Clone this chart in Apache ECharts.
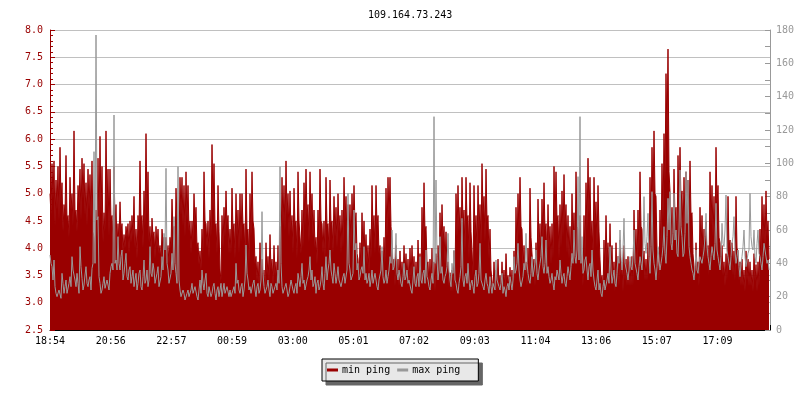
<!DOCTYPE html>
<html>
<head>
<meta charset="utf-8">
<script src="https://cdn.jsdelivr.net/npm/echarts@6/dist/echarts.min.js"></script>
<style>html,body{margin:0;padding:0;background:#fff;}#c{width:800px;height:400px;}</style>
</head>
<body>
<div id="c"></div>
<script>
// x axis in minutes from 18:54; samples every 2 minutes (even / odd samples kept in separate lists)
var stepMin = 2;
var xTickStep = 121.36;
var xTickLabels = ['18:54','20:56','22:57','00:59','03:00','05:01','07:02','09:03','11:04','13:06','15:07','17:09'];

// min ping (ms, left axis) — even samples (local peaks)
var minPingEven = [
5.0,5.55,5.6,5.25,5.5,5.85,5.2,4.8,5.7,4.6,
5.3,5.0,6.15,4.7,5.15,5.45,5.65,5.55,5.2,5.45,
5.35,5.6,4.2,4.7,5.65,6.05,5.5,4.65,6.15,5.45,
5.45,4.6,5.5,4.8,4.45,4.85,4.45,4.25,4.4,4.45,
4.5,4.6,4.95,4.35,4.6,5.6,4.6,5.05,6.1,5.4,
4.4,4.55,4.3,4.4,4.35,4.05,4.35,4.2,4.2,4.05,
4.2,4.9,4.4,5.1,4.4,5.3,5.3,5.15,5.4,5.15,
4.5,4.5,5.0,4.75,4.1,3.95,4.35,5.4,4.45,4.5,
4.7,5.9,5.55,4.45,5.15,3.6,4.6,4.75,5.05,4.6,
4.35,5.1,4.45,5.0,4.7,5.0,5.0,4.45,5.45,4.35,
5.0,5.4,4.35,3.85,3.75,4.1,3.8,3.6,4.1,3.85,
4.25,3.8,4.05,3.75,4.05,4.4,5.3,5.15,5.6,5.0,
5.05,4.6,5.1,4.5,5.4,4.5,4.7,5.2,5.45,4.8,
5.4,5.0,4.7,4.2,4.7,5.45,4.45,4.5,5.3,4.45,
5.25,4.5,4.95,4.75,5.0,4.6,4.7,5.3,4.95,4.8,
4.8,5.0,5.15,4.65,3.8,4.1,4.65,4.5,4.25,4.05,
4.35,5.15,4.6,5.15,4.6,4.05,3.95,4.2,5.1,5.3,
5.3,4.1,3.8,4.05,3.8,3.95,3.75,4.05,3.9,3.8,
4.0,4.05,3.85,3.75,4.15,3.9,4.75,5.2,4.4,3.75,
3.8,4.0,3.75,3.9,4.05,4.65,4.8,4.4,4.3,3.75,
3.55,3.6,3.95,5.0,5.15,4.75,5.3,4.7,5.3,4.6,
5.2,3.95,5.15,4.6,5.15,4.8,5.55,4.95,5.45,4.6,
4.35,3.6,3.75,3.6,3.8,3.5,3.75,3.6,3.9,3.5,
3.65,3.6,3.95,4.75,5.0,5.3,4.35,4.05,3.75,4.0,
5.1,4.2,3.8,4.1,4.9,4.45,4.9,5.2,4.45,4.8,
4.4,4.45,5.5,5.4,4.6,4.8,5.05,5.35,4.8,4.6,
4.4,5.0,4.65,5.4,4.35,4.6,3.75,4.6,5.2,5.65,
5.3,4.5,5.3,4.85,5.15,3.8,3.5,4.15,4.6,4.1,
4.45,4.05,3.75,4.1,3.85,4.15,3.75,4.05,3.8,3.85,
3.75,3.85,4.7,4.35,4.7,5.4,4.35,3.95,3.8,4.1,
5.3,5.85,6.15,4.95,3.75,4.7,5.55,6.1,7.2,7.65,
5.05,4.75,5.45,4.75,5.7,5.85,5.05,5.3,5.4,5.25,
5.6,4.65,3.9,4.1,3.75,4.75,4.6,4.35,4.5,4.05,
5.4,5.15,4.95,5.85,5.15,4.1,4.05,3.75,3.9,4.95,
4.15,4.1,3.95,4.95,3.95,3.75,3.8,3.6,3.95,3.8,
3.75,3.6,3.9,3.7,3.75,4.35,4.95,4.8,5.05,4.5
];
// min ping — odd samples (dips between peaks)
var minPingOdd = [
4.6,4.9,4.4,4.7,4.5,4.8,4.3,4.6,4.5,4.2,
4.7,4.4,4.6,4.3,4.8,4.5,4.9,4.6,4.4,4.7,
4.5,4.3,3.9,4.2,4.4,4.6,4.1,4.3,4.7,4.2,
4.5,4.1,4.4,4.0,4.1,4.3,3.9,4.0,4.2,3.9,
4.1,4.2,4.0,3.8,4.3,4.5,4.0,4.4,4.6,4.1,
3.9,4.2,3.8,4.0,3.9,3.7,4.1,3.8,3.9,3.7,
4.0,4.3,3.9,4.5,4.0,4.6,4.4,4.2,4.5,4.3,
3.9,4.1,4.4,4.0,3.7,3.6,3.9,4.5,4.0,3.8,
4.2,4.7,4.4,3.9,4.3,3.4,4.0,4.2,4.4,3.9,
3.9,4.3,3.8,4.2,3.9,4.1,4.4,3.8,4.3,3.7,
4.2,4.5,3.7,3.4,3.3,3.5,3.3,3.2,3.5,3.4,
3.6,3.3,3.5,3.3,3.4,3.8,4.4,4.3,4.6,4.2,
4.3,3.9,4.4,3.8,4.5,3.9,4.0,4.4,4.6,4.1,
4.5,4.2,4.0,3.7,4.1,4.5,3.9,3.8,4.4,3.9,
4.4,3.9,4.2,4.0,4.3,3.9,4.0,4.5,4.1,4.2,
4.0,4.3,4.4,3.9,3.4,3.6,3.9,3.8,3.7,3.5,
3.8,4.3,3.9,4.4,3.9,3.5,3.4,3.7,4.2,4.5,
4.4,3.6,3.3,3.5,3.3,3.4,3.3,3.5,3.4,3.3,
3.4,3.5,3.3,3.3,3.6,3.4,3.9,4.3,3.7,3.3,
3.3,3.5,3.2,3.4,3.5,3.9,4.1,3.7,3.6,3.3,
3.2,3.2,3.4,4.2,4.3,3.9,4.4,3.9,4.5,3.8,
4.3,3.5,4.2,3.9,4.3,4.0,4.6,4.1,4.5,3.8,
3.6,3.2,3.3,3.2,3.3,3.2,3.3,3.2,3.4,3.2,
3.3,3.2,3.4,3.9,4.2,4.4,3.6,3.5,3.3,3.5,
4.2,3.6,3.3,3.5,4.0,3.7,4.1,4.3,3.7,4.0,
3.7,3.8,4.4,4.5,3.8,4.0,4.2,4.4,3.9,3.8,
3.6,4.1,3.8,4.4,3.7,3.9,3.3,3.8,4.3,4.6,
4.2,3.8,4.4,4.0,4.3,3.4,3.2,3.5,3.8,3.4,
3.6,3.4,3.2,3.4,3.3,3.5,3.2,3.4,3.3,3.3,
3.3,3.3,3.8,3.6,3.9,4.4,3.7,3.4,3.4,3.6,
4.3,4.8,5.0,4.0,3.4,3.9,4.5,5.2,6.0,5.4,
4.2,4.0,4.5,4.0,4.7,4.8,4.2,4.4,4.5,4.3,
4.6,3.9,3.4,3.6,3.3,3.9,3.8,3.7,3.8,3.5,
4.4,4.2,4.1,4.8,4.2,3.6,3.5,3.3,3.4,4.0,
3.6,3.5,3.4,4.0,3.4,3.3,3.3,3.2,3.4,3.3,
3.3,3.2,3.4,3.2,3.3,3.7,4.1,4.0,4.2,3.8
];

// max ping (ms, right axis) — even samples
var maxPingEven = [
45,38,42,22,21,24,34,22,30,23,
32,44,36,26,28,50,31,27,38,26,
32,37,107,177,68,28,24,32,26,30,
34,40,129,42,56,36,48,34,46,30,
38,32,26,34,28,36,24,42,30,26,
50,32,36,28,38,26,44,58,97,36,
28,46,68,34,98,24,20,22,18,24,
20,28,22,26,18,30,36,24,34,20,
26,22,28,18,26,24,20,28,22,26,
24,20,26,40,30,22,28,24,51,30,
26,22,30,20,28,24,71,26,22,30,
20,26,22,28,36,98,26,22,28,20,
26,30,22,28,34,26,40,30,24,32,
44,36,28,22,30,26,38,24,44,36,
48,32,40,28,38,30,26,34,28,82,
36,30,72,52,40,32,38,50,34,30,
26,36,28,34,24,30,50,28,36,32,
44,60,38,58,30,36,26,40,32,28,
30,22,38,26,34,44,28,36,48,30,
24,34,128,90,30,56,38,28,34,58,
30,40,48,28,22,32,67,26,34,40,
24,30,22,36,28,52,30,24,34,26,
32,22,28,42,30,24,34,26,20,28,
32,24,44,36,52,30,26,40,58,34,
28,44,36,48,30,40,56,34,54,38,
28,34,24,30,36,42,28,34,26,38,
30,46,60,40,92,128,56,36,44,30,
40,48,30,24,36,28,20,30,24,34,
50,28,36,26,44,60,36,67,40,30,
44,36,60,40,30,44,36,80,46,70,
34,83,40,30,50,36,44,62,40,79,
83,48,82,60,44,96,56,46,95,90,
44,36,30,48,34,44,40,48,70,44,
36,50,42,76,44,36,64,50,81,44,
36,52,68,40,48,32,44,60,38,46,
82,50,60,40,60,44,36,52,48,42
];
// max ping — odd samples
var maxPingOdd = [
40,30,26,20,24,19,28,26,22,28,
26,36,30,34,22,38,24,33,28,30,
24,40,40,66,32,22,28,25,30,24,
38,36,40,36,40,44,30,40,32,36,
28,36,30,24,34,26,32,28,36,30,
34,40,28,34,26,32,36,48,40,28,
34,36,40,28,30,20,24,18,22,20,
24,22,26,20,24,22,28,30,22,26,
20,26,22,24,20,28,24,22,26,20,
20,24,22,28,24,26,20,30,34,24,
22,28,24,26,22,30,34,22,26,24,
28,22,26,24,28,40,22,26,24,22,
30,24,26,22,30,32,28,24,30,36,
30,26,32,28,24,30,28,34,30,40,
36,28,34,32,30,26,32,28,36,40,
30,34,48,36,30,36,34,30,28,34,
30,28,34,26,30,36,32,30,28,36,
40,36,44,34,36,28,32,30,36,30,
24,30,28,32,26,30,34,28,32,26,
30,28,40,44,36,34,30,32,38,36,
26,34,30,24,28,38,30,32,28,30,
28,26,32,26,34,30,26,30,28,22,
26,28,24,30,26,28,22,24,26,24,
28,30,34,40,36,26,32,36,40,30,
34,32,40,34,36,44,38,40,34,32,
30,28,32,36,30,34,32,28,32,34,
38,40,44,48,42,40,34,42,36,38,
32,36,26,30,24,22,26,24,30,28,
36,32,28,34,40,44,48,40,34,36,
38,44,40,34,38,40,48,52,56,44,
50,48,36,38,42,40,50,46,56,60,
52,58,54,46,60,62,44,58,64,50,
40,34,38,36,40,42,44,56,50,40,
44,46,52,48,40,44,52,60,48,40,
44,56,48,44,38,40,50,44,42,48,
56,48,44,52,46,40,44,48,40,36
];

function interleave(even, odd) {
  var out = [];
  for (var i = 0; i < even.length; i++) {
    out.push([(2 * i) * stepMin, even[i]]);
    if (i < odd.length) out.push([(2 * i + 1) * stepMin, odd[i]]);
  }
  return out;
}

var MONO = '"DejaVu Sans Mono", "Liberation Mono", monospace';
var minData = interleave(minPingEven, minPingOdd);
var maxData = interleave(maxPingEven, maxPingOdd);

var chart = echarts.init(document.getElementById('c'));
chart.setOption({
  animation: false,
  backgroundColor: '#ffffff',
  title: {
    text: '109.164.73.243',
    left: 368, top: 10, padding: 0,
    textStyle: { fontFamily: MONO, fontSize: 10, fontWeight: 'normal', color: '#000' }
  },
  legend: {
    data: ['min ping', 'max ping'],
    left: 322, top: 359,
    padding: [6, 18, 6, 5],
    itemGap: 7,
    itemWidth: 11, itemHeight: 3,
    icon: 'rect',
    backgroundColor: '#e8e8e8',
    borderColor: '#000', borderWidth: 1,
    shadowColor: '#666', shadowOffsetX: 4, shadowOffsetY: 4, shadowBlur: 0,
    textStyle: { fontFamily: MONO, fontSize: 10, color: '#000', padding: [0, 0, 0, -1] }
  },
  grid: { left: 50, right: 30, top: 30, bottom: 70 },
  xAxis: {
    type: 'value',
    min: 0, max: 1440, interval: xTickStep,
    axisLine: { show: true, lineStyle: { color: '#000', width: 1 } },
    axisTick: { show: true, inside: true, length: 5, lineStyle: { color: '#000' } },
    splitLine: { show: false },
    axisLabel: {
      margin: 6, color: '#000', fontFamily: MONO, fontSize: 10,
      formatter: function (v) { var t = xTickLabels[Math.round(v / xTickStep)]; return t === undefined ? '' : t; }
    }
  },
  yAxis: [{
    type: 'value', position: 'left',
    min: 2.5, max: 8.0, interval: 0.5,
    axisLine: { show: true, lineStyle: { color: '#990000', width: 1 } },
    axisTick: { show: true, inside: true, length: 5, lineStyle: { color: '#990000' } },
    minorTick: { show: true, splitNumber: 5, length: 3, lineStyle: { color: '#990000' } },
    splitLine: { show: true, lineStyle: { color: '#c0c0c0', width: 1 } },
    axisLabel: { margin: 7, color: '#990000', fontFamily: MONO, fontSize: 10,
      formatter: function (v) { return v.toFixed(1); } }
  }, {
    type: 'value', position: 'right',
    min: 0, max: 180, interval: 20,
    axisLine: { show: true, lineStyle: { color: '#999999', width: 1 } },
    axisTick: { show: true, inside: true, length: 5, lineStyle: { color: '#999999' } },
    minorTick: { show: true, splitNumber: 2, length: 5, lineStyle: { color: '#999999' } },
    splitLine: { show: false },
    axisLabel: { margin: 6, color: '#999999', fontFamily: MONO, fontSize: 10 }
  }],
  series: [{
    name: 'min ping', type: 'line', yAxisIndex: 0,
    data: minData, step: 'end', showSymbol: false, symbol: 'none',
    color: '#990000',
    lineStyle: { color: '#990000', width: 1 },
    areaStyle: { color: '#990000', opacity: 1, origin: 'start' },
    z: 2
  }, {
    name: 'max ping', type: 'line', yAxisIndex: 1,
    data: maxData, step: 'end', showSymbol: false, symbol: 'none',
    color: '#999999',
    lineStyle: { color: '#999999', width: 1 },
    z: 3
  }]
});
</script>
</body>
</html>
